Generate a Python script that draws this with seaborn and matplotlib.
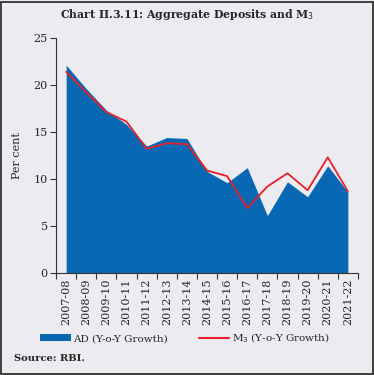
import pandas as pd
import numpy as np
import matplotlib.pyplot as plt
import seaborn as sns
from matplotlib.patches import Patch, Rectangle
from matplotlib.lines import Line2D

# data
years = ['2007-08', '2008-09', '2009-10', '2010-11', '2011-12', '2012-13', '2013-14',
         '2014-15', '2015-16', '2016-17', '2017-18', '2018-19', '2019-20', '2020-21', '2021-22']
ad_growth = [22.1, 19.6, 17.3, 15.8, 13.5, 14.4, 14.3, 10.8, 9.6, 11.2, 6.1, 9.7, 8.1, 11.4, 8.6]
m3_growth = [21.4, 19.2, 17.1, 16.1, 13.2, 13.8, 13.7, 10.9, 10.3, 6.9, 9.2, 10.6, 8.8, 12.3, 8.7]

bg = '#ebebf0'
blue = '#0868b3'
red = '#e8202a'

df = pd.DataFrame({'year': years, 'AD': ad_growth, 'M3': m3_growth})
df['pos'] = np.arange(len(years))

sns.set_style('ticks', {'axes.facecolor': bg, 'figure.facecolor': bg})
plt.rcParams['font.family'] = ['DejaVu Serif']

fig = plt.figure(figsize=(3.74, 3.75), dpi=100)
ax = fig.add_axes([0.150, 0.272, 0.807, 0.627])

ax.fill_between(df['pos'], df['AD'], 0, color=blue, linewidth=0)
sns.lineplot(x='pos', y='M3', data=df, ax=ax, color=red, linewidth=1.3)

ax.set_xlim(-0.5, len(years) - 0.55)
ax.set_ylim(0, 25)
ax.set_yticks(range(0, 26, 5))
ax.set_ylabel('Per cent', fontsize=8, labelpad=8)
ax.set_xlabel('')

# tick marks between categories, labels at centres
ax.set_xticks(np.arange(-0.5, len(years), 1))
ax.set_xticklabels([])
ax.set_xticks(df['pos'], minor=True)
ax.set_xticklabels(years, minor=True, rotation=90, fontsize=8)
ax.tick_params(axis='x', which='minor', length=0, pad=4)
ax.tick_params(axis='both', which='major', labelsize=8, length=4, color='#333333')
ax.tick_params(axis='y', pad=2)

for s in ['top', 'right']:
    ax.spines[s].set_visible(False)
for s in ['left', 'bottom']:
    ax.spines[s].set_color('#333333')
    ax.spines[s].set_linewidth(0.8)

fig.text(0.5, 0.962, 'Chart II.3.11: Aggregate Deposits and M$_3$', ha='center', va='center',
         fontsize=7.8, fontweight='bold')

handles = [Patch(facecolor=blue, edgecolor='none'), Line2D([0], [0], color=red, lw=1.5)]
labels = ['AD (Y-o-Y Growth)', 'M$_3$ (Y-o-Y Growth)']
fig.legend(handles, labels, loc='center', bbox_to_anchor=(0.495, 0.098), ncol=2, frameon=False,
           fontsize=7.5, handlelength=2.9, handletextpad=0.25, columnspacing=3.0)

fig.text(0.038, 0.045, 'Source: RBI.', fontsize=7.2, fontweight='bold', va='center')

fig.patches.append(Rectangle((0.004, 0.004), 0.992, 0.992, transform=fig.transFigure,
                             fill=False, edgecolor='#222222', linewidth=1.2))

fig.savefig('out.png', dpi=100, facecolor=bg)
